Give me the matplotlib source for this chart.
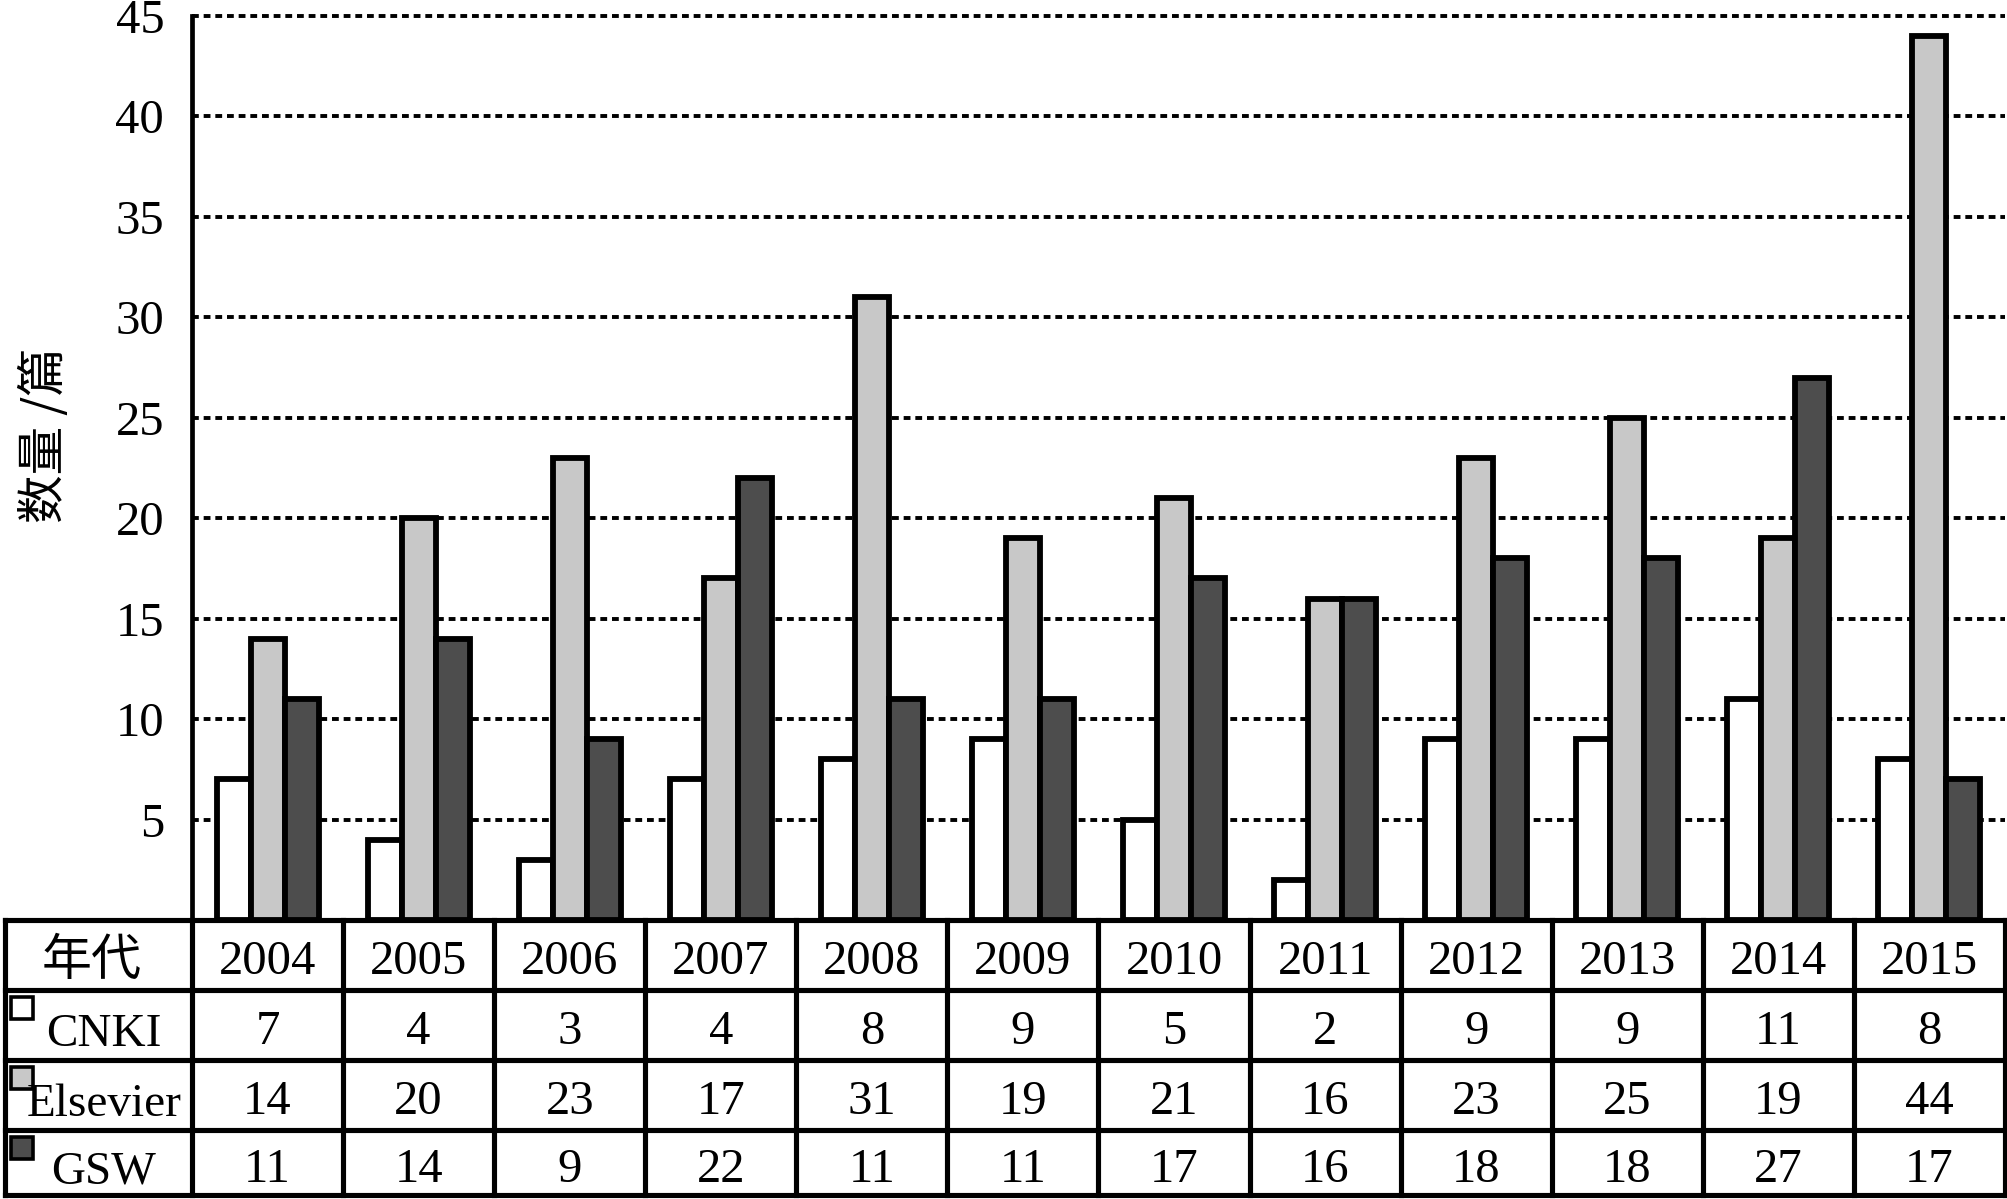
import numpy as np
import matplotlib.pyplot as plt
from matplotlib.patches import Rectangle

plt.rcParams['font.family'] = ['Liberation Serif', 'Noto Sans CJK SC']

years = ['2004', '2005', '2006', '2007', '2008', '2009', '2010', '2011',
         '2012', '2013', '2014', '2015']
# bar heights as drawn in the picture
cnki = [7, 4, 3, 7, 8, 9, 5, 2, 9, 9, 11, 8]
elsevier = [14, 20, 23, 17, 31, 19, 21, 16, 23, 25, 19, 44]
gsw = [11, 14, 9, 22, 11, 11, 17, 16, 18, 18, 27, 7]
# numbers printed in the data table below the bars
cnki_tab = ['7', '4', '3', '4', '8', '9', '5', '2', '9', '9', '11', '8']
elsevier_tab = ['14', '20', '23', '17', '31', '19', '21', '16', '23', '25', '19', '44']
gsw_tab = ['11', '14', '9', '22', '11', '11', '17', '16', '18', '18', '27', '17']

series = ['CNKI', 'Elsevier', 'GSW']
colors = ['#ffffff', '#c8c8c8', '#4d4d4d']
yticks = [5, 10, 15, 20, 25, 30, 35, 40, 45]

W, H = 2008, 1199
fig = plt.figure(figsize=(W / 100, H / 100), dpi=100)

# table lives in pixel coordinates of the whole figure
tax = fig.add_axes([0, 0, 1, 1])
tax.set_xlim(0, W)
tax.set_ylim(H, 0)
tax.axis('off')

x_left, x_right = 192, 2005
y_top, y_base = 16, 920
row_y = [920, 990, 1060, 1130, 1195]
col_w = (x_right - x_left) / len(years)

ax = fig.add_axes([x_left / W, (H - y_base) / H, (x_right - x_left) / W, (y_base - y_top) / H])
ax.set_facecolor('none')

x = np.arange(len(years))
bw = 0.225
for k, (vals, c) in enumerate(zip([cnki, elsevier, gsw], colors)):
    ax.bar(x + (k - 1) * bw, vals, bw, color=c, edgecolor='black', linewidth=4.2, zorder=3)

ax.set_xlim(-0.5, len(years) - 0.5)
ax.set_ylim(0, 45)
ax.set_yticks(yticks)
ax.set_yticklabels([str(v) for v in yticks], fontsize=35)
ax.set_xticks([])
ax.tick_params(axis='y', length=0, pad=20)
for s in ['top', 'right', 'bottom']:
    ax.spines[s].set_visible(False)
ax.spines['left'].set_linewidth(3.4)
ax.yaxis.grid(True, color='black', linewidth=2.8, linestyle=(0, (1.75, 1.25)), zorder=0)
ax.set_axisbelow(True)
for gl in ax.get_ygridlines():
    gl.set_clip_on(False)

fig.text(45 / W, 1 - 435 / H, '数量 /篇', rotation=90, fontsize=35,
         family=['Noto Sans CJK SC'], ha='center', va='center')

# table grid
lw = 3.7
for y in row_y:
    tax.plot([5, x_right], [y, y], color='black', linewidth=lw, solid_capstyle='projecting')
tax.plot([5, 5], [row_y[0], row_y[-1]], color='black', linewidth=lw)
for i in range(len(years) + 1):
    xx = x_left + i * col_w
    tax.plot([xx, xx], [row_y[0], row_y[-1]], color='black', linewidth=lw)

tax.text(92, (row_y[0] + row_y[1]) / 2 + 6, '年代', fontsize=36,
         family=['Noto Sans CJK SC'], ha='center', va='center')
for i, yr in enumerate(years):
    tax.text(x_left + (i + 0.5) * col_w, (row_y[0] + row_y[1]) / 2 + 7, yr,
             fontsize=35, ha='center', va='center')

for r, (name, c, vals) in enumerate(zip(series, colors, [cnki_tab, elsevier_tab, gsw_tab])):
    y0, y1 = row_y[r + 1], row_y[r + 2]
    tax.add_patch(Rectangle((11, y0 + 7), 22, 22, facecolor=c, edgecolor='black', linewidth=2.6))
    tax.text(104, (y0 + y1) / 2 + 10, name, fontsize=34, ha='center', va='center')
    for i, v in enumerate(vals):
        tax.text(x_left + (i + 0.5) * col_w, (y0 + y1) / 2 + 7, v,
                 fontsize=35, ha='center', va='center')

fig.savefig('out.png', dpi=100)
